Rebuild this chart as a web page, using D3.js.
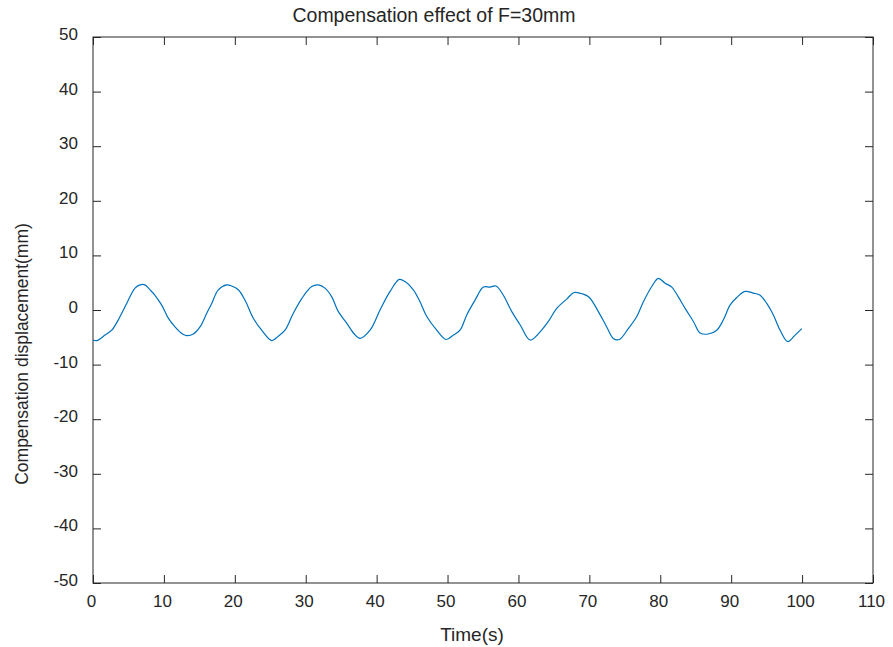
<!DOCTYPE html>
<html>
<head>
<meta charset="utf-8">
<script src="https://cdn.jsdelivr.net/npm/d3@7"></script>
<style>
  body { margin: 0; background: #fff; }
  text { font-family: "Liberation Sans", Arial, sans-serif; fill: #262626; }
</style>
</head>
<body>
<div class="drawingArea"></div>
<script>
// time (s) and compensation displacement (mm)
var time = [0, 0.52, 1.69, 2.64, 3.57, 4.75, 5.92, 6.63, 7.33, 8.04, 8.74, 9.69,
    10.62, 11.57, 12.51, 13.22, 14.15, 15.09, 16.04, 16.74, 17.67, 18.86, 19.56,
    20.49, 21.44, 22.61, 23.79, 25.2, 26.14, 27.08, 28.25, 29.44, 30.85, 31.78,
    32.72, 33.67, 34.6, 35.78, 36.85, 37.66, 39.07, 40.48, 41.89, 43.2, 44.01,
    45.18, 46.12, 47.07, 48.48, 49.79, 50.82, 51.76, 52.71, 53.88, 55.05, 55.99,
    56.84, 57.87, 59.06, 60.23, 61.64, 63.05, 64.22, 65.4, 66.81, 67.84, 69.15,
    70.0, 71.27, 72.45, 73.38, 74.23, 75.49, 76.69, 77.62, 78.8, 79.73, 80.68,
    81.62, 82.55, 83.5, 84.67, 85.61, 86.78, 87.97, 88.9, 89.84, 90.79, 91.96,
    93.13, 94.08, 95.02, 95.95, 96.9, 97.98, 99.01, 99.96];
var displacement = [-5.5, -5.6, -4.6, -3.7, -1.8, 1.2, 4.0, 4.6, 4.6, 3.7, 2.7, 0.9,
    -1.5, -3.1, -4.3, -4.7, -4.4, -3.1, -0.6, 1.2, 3.7, 4.6, 4.4,
    3.7, 1.8, -1.5, -3.7, -5.6, -4.8, -3.7, -0.6, 2.1, 4.3, 4.6,
    4.0, 2.4, -0.3, -2.4, -4.4, -5.2, -3.7, 0, 3.4, 5.6, 5.2,
    3.7, 1.5, -1.2, -3.7, -5.4, -4.6, -3.7, -0.9, 1.8, 4.2, 4.2,
    4.4, 2.7, -0.3, -2.7, -5.5, -4.0, -2.1, 0.3, 2.0, 3.2, 2.9,
    2.3, -0.3, -3.1, -5.2, -5.4, -3.4, -1.2, 1.5, 4.3, 5.8, 4.9,
    4.2, 2.4, 0.3, -2.1, -4.2, -4.4, -3.7, -1.8, 0.9, 2.3, 3.4,
    3.1, 2.7, 1.2, -0.9, -3.7, -5.8, -4.6, -3.4];

var xTicks = [0, 10, 20, 30, 40, 50, 60, 70, 80, 90, 100, 110];
var yTicks = [-50, -40, -30, -20, -10, 0, 10, 20, 30, 40, 50];

var width = 893;
var height = 647;
var plotLeft = 93, plotRight = 873, plotTop = 37, plotBottom = 583;
var tickLen = 8;

//Plain hyphen for negatives, like the original
var plainFormat = function (d) { return String(d); };

var svg = d3.select(".drawingArea").append("svg")
    .attr("width", width)
    .attr("height", height);

var x = d3.scaleLinear().domain([0, 110]).range([plotLeft, plotRight]);
var y = d3.scaleLinear().domain([-50, 50]).range([plotBottom, plotTop]);

//Ticks on all four sides, pointing inward
svg.append("g")
    .attr("transform", "translate(0," + plotBottom + ")")
    .call(d3.axisBottom(x).tickValues(xTicks).tickFormat(plainFormat)
        .tickSize(-tickLen).tickPadding(12).tickSizeOuter(0))
    .call(function (g) {
        g.select(".domain").remove();
        g.selectAll("line").attr("stroke", "#262626");
        g.selectAll("text").attr("font-size", "17px").attr("dx", "-2").attr("fill", "#262626");
    });

svg.append("g")
    .attr("transform", "translate(0," + plotTop + ")")
    .call(d3.axisTop(x).tickValues(xTicks).tickSize(-tickLen).tickFormat("").tickSizeOuter(0))
    .call(function (g) {
        g.select(".domain").remove();
        g.selectAll("line").attr("stroke", "#262626");
    });

svg.append("g")
    .attr("transform", "translate(" + plotLeft + ",0)")
    .call(d3.axisLeft(y).tickValues(yTicks).tickFormat(plainFormat)
        .tickSize(-tickLen).tickPadding(15).tickSizeOuter(0))
    .call(function (g) {
        g.select(".domain").remove();
        g.selectAll("line").attr("stroke", "#262626");
        g.selectAll("text").attr("font-size", "17px").attr("dy", "0.15em").attr("fill", "#262626");
    });

svg.append("g")
    .attr("transform", "translate(" + plotRight + ",0)")
    .call(d3.axisRight(y).tickValues(yTicks).tickSize(-tickLen).tickFormat("").tickSizeOuter(0))
    .call(function (g) {
        g.select(".domain").remove();
        g.selectAll("line").attr("stroke", "#262626");
    });

//Box
svg.append("rect")
    .attr("x", plotLeft)
    .attr("y", plotTop)
    .attr("width", plotRight - plotLeft)
    .attr("height", plotBottom - plotTop)
    .attr("fill", "none")
    .attr("stroke", "#262626")
    .attr("stroke-width", 1);

var line = d3.line()
    .x(function (d, i) { return x(time[i]); })
    .y(function (d) { return y(d); })
    .curve(d3.curveCatmullRom);

svg.append("path")
    .datum(displacement)
    .attr("d", line)
    .attr("fill", "none")
    .attr("stroke", "#0072BD")
    .attr("stroke-width", 1.2);

svg.append("text")
    .attr("x", 434)
    .attr("y", 22)
    .attr("text-anchor", "middle")
    .attr("font-size", "19.5px")
    .text("Compensation effect of F=30mm");

svg.append("text")
    .attr("x", 472)
    .attr("y", 641)
    .attr("text-anchor", "middle")
    .attr("font-size", "19px")
    .text("Time(s)");

svg.append("text")
    .attr("transform", "translate(28,354) rotate(-90)")
    .attr("text-anchor", "middle")
    .attr("font-size", "17.5px")
    .text("Compensation displacement(mm)");
</script>
</body>
</html>
